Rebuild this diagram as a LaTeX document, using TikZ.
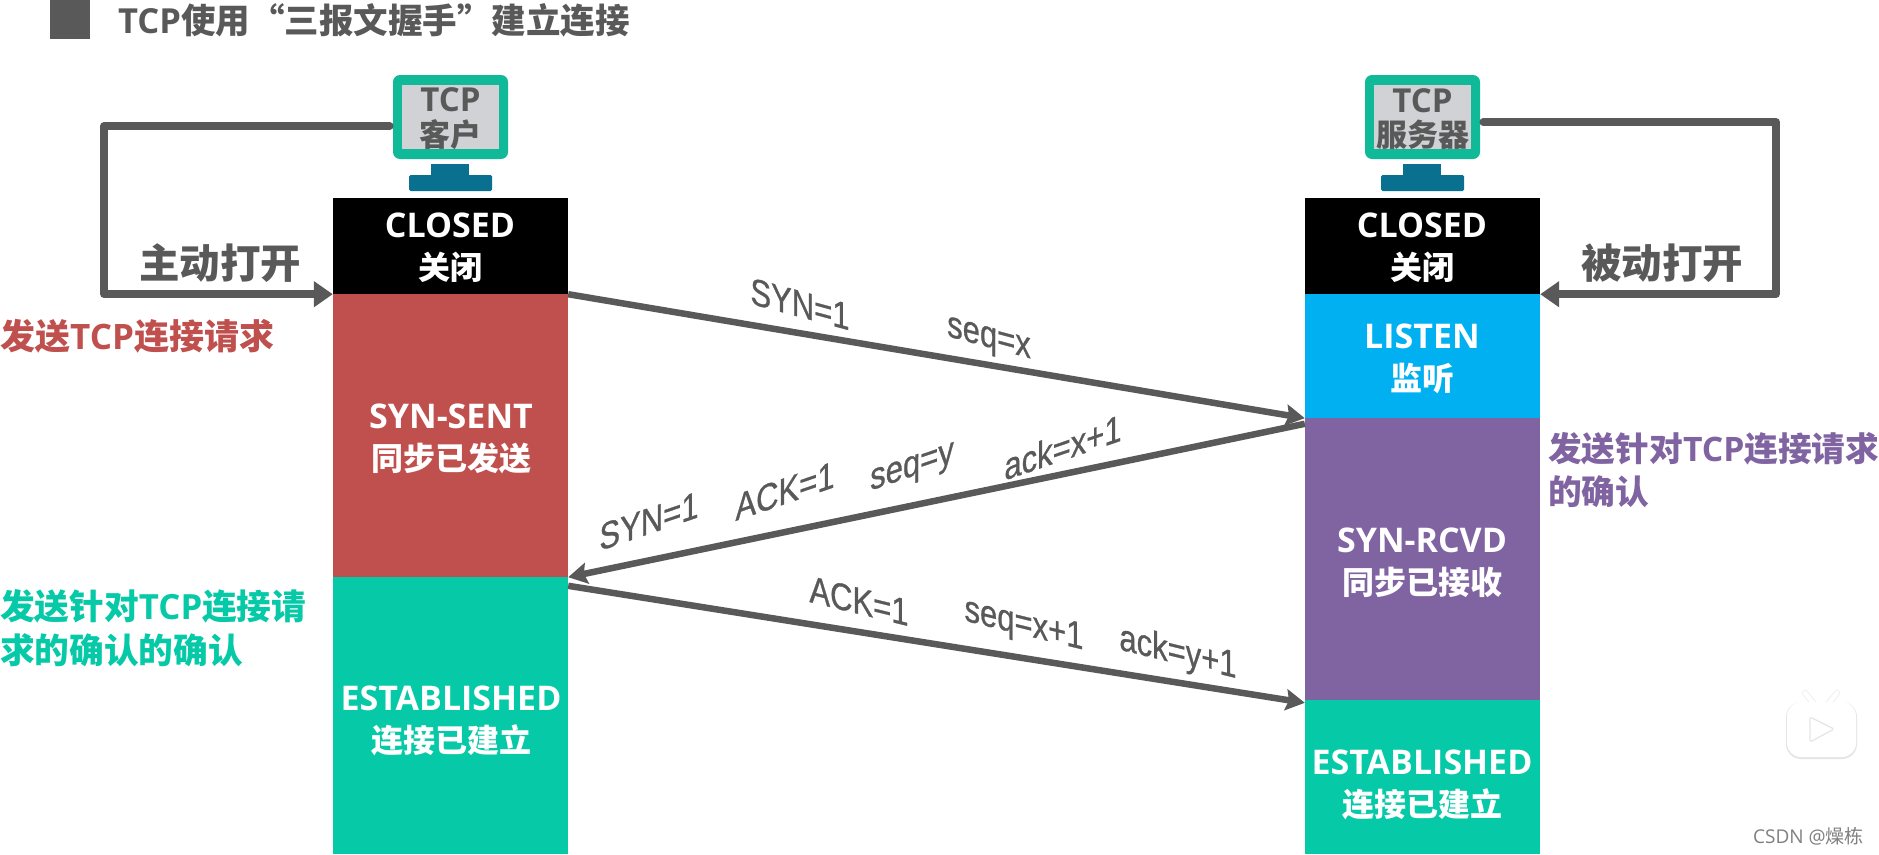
\documentclass[tikz,border=0pt]{standalone}
\usepackage{fontspec}
\setmainfont{Open Sans}
\newfontfamily\cjk{Noto Sans CJK SC}
\newfontfamily\seglatin[FakeBold=0.8]{Liberation Sans}
\usetikzlibrary{arrows.meta}
\definecolor{ink}{HTML}{595959}
\definecolor{redstate}{HTML}{C0504D}
\definecolor{tealstate}{HTML}{05C9A7}
\definecolor{bluestate}{HTML}{00B0F0}
\definecolor{purplestate}{HTML}{8064A2}
\definecolor{monframe}{HTML}{10B998}
\definecolor{monscreen}{HTML}{D0D2D6}
\definecolor{monstand}{HTML}{0A7090}
\definecolor{redlabel}{HTML}{C0504D}
\newcommand{\fsz}[1]{\fontsize{#1pt}{#1pt}\selectfont}
\newcommand{\zh}[1]{{\cjk\bfseries #1}}
\newcommand{\en}[1]{{\bfseries #1}}
\newcommand{\statetxt}[2]{\fsz{34}\en{#1}\\[13pt]\fsz{32}\zh{#2}}
\tikzset{
  block/.style={rectangle,inner sep=0pt,minimum width=235pt},
  statelabel/.style={text=white,align=center,inner sep=0pt},
  monbody/.style={rectangle,rounded corners=7pt,fill=monframe,inner sep=0pt,minimum width=115pt,minimum height=84pt},
  monscr/.style={rectangle,fill=monscreen,inner sep=0pt,minimum width=97pt,minimum height=64pt},
  montext/.style={text=ink,align=center,inner sep=0pt},
  monpart/.style={rectangle,fill=monstand,inner sep=0pt},
  openline/.style={draw=ink,line width=7.5pt,line join=round,line cap=round,-{Triangle[length=19pt,width=25pt]}},
  segline/.style={draw=ink,line width=6.5pt,-{Stealth[length=19pt,width=21pt,inset=3pt]}},
  segtext/.style={font=\seglatin\fsz{31},text=ink,inner sep=0pt,yscale=1.22,transform shape},
  sidetext/.style={align=left,inner sep=0pt,anchor=west},
  opentext/.style={text=ink,inner sep=0pt}
}
\begin{document}
\begin{tikzpicture}[x=1pt,y=-1pt]
\useasboundingbox (0,0) rectangle (1879,854);
\fill[white] (0,0) rectangle (1879,854);

% heading
\fill[ink] (50,0) rectangle (90,39);
\node[anchor=west,text=ink,inner sep=0pt] (title) at (118,20) {\fsz{34.5}\en{TCP}\zh{使用“三报文握手”建立连接}};

% client column
\node[block,fill=black,minimum height=96pt] (closedL) at (450.5,246) {};
\node[block,fill=redstate,minimum height=283pt] (sent) at (450.5,435.5) {};
\node[block,fill=tealstate,minimum height=277pt] (estL) at (450.5,715.5) {};
\node[statelabel] (closedLt) at (450,248) {\statetxt{CLOSED}{关闭}};
\node[statelabel] (sentt) at (451,439) {\statetxt{SYN-SENT}{同步已发送}};
\node[statelabel] (estLt) at (451,721) {\statetxt{ESTABLISHED}{连接已建立}};

% server column
\node[block,fill=black,minimum height=96pt] (closedR) at (1422.5,246) {};
\node[block,fill=bluestate,minimum height=124pt] (listen) at (1422.5,356) {};
\node[block,fill=purplestate,minimum height=282pt] (rcvd) at (1422.5,559) {};
\node[block,fill=tealstate,minimum height=154pt] (estR) at (1422.5,777) {};
\node[statelabel] (closedRt) at (1422,248) {\statetxt{CLOSED}{关闭}};
\node[statelabel] (listent) at (1422,359) {\statetxt{LISTEN}{监听}};
\node[statelabel] (rcvdt) at (1422,563) {\statetxt{SYN-RCVD}{同步已接收}};
\node[statelabel] (estRt) at (1422,785) {\statetxt{ESTABLISHED}{连接已建立}};

% client monitor
\node[monpart,minimum width=38pt,minimum height=12pt] (neckL) at (450,170) {};
\node[monpart,rounded corners=1.5pt,minimum width=83pt,minimum height=16pt] (baseL) at (450.5,183) {};
\node[monbody] (client) at (450.5,117) {};
\node[monscr] (clients) at (450.5,117) {};
\node[montext] (clientt) at (450.5,119) {\fsz{33}\en{TCP}\\[7pt]\fsz{31}\zh{客户}};

% server monitor
\node[monpart,minimum width=38pt,minimum height=12pt] (neckR) at (1422,170) {};
\node[monpart,rounded corners=1.5pt,minimum width=83pt,minimum height=16pt] (baseR) at (1422.5,183) {};
\node[monbody] (server) at (1422.5,117) {};
\node[monscr] (servers) at (1422.5,117) {};
\node[montext] (servert) at (1422.5,119) {\fsz{33}\en{TCP}\\[7pt]\fsz{31}\zh{服务器}};

% open transitions
\coordinate (turnL) at (104,126);
\coordinate (turnR) at (1776,122);
\draw[openline] ([xshift=-3pt,yshift=-9pt]client.west) -- (turnL) |- (closedL.south west);
\draw[openline] ([xshift=3pt,yshift=-5pt]server.east) -- (turnR) |- (closedR.south east);
\node[opentext] (activeopen) at (220,263) {\fsz{40.5}\zh{主动打开}};
\node[opentext] (passiveopen) at (1662,263) {\fsz{40.5}\zh{被动打开}};

% handshake segments
\draw[segline] (closedL.south east) -- (listen.south west);
\draw[segline] ([yshift=-6pt]rcvd.north west) -- (sent.south east);
\draw[segline] ([yshift=-9pt]estL.north east) -- ([yshift=-3pt]estR.north west);

\node[segtext,yslant=-0.22] (s1a) at (800,304) {SYN=1};
\node[segtext,yslant=-0.22] (s1b) at (989,341) {seq=x};
\node[segtext,yslant=0.28] (s2a) at (649,521) {SYN=1};
\node[segtext,yslant=0.28] (s2b) at (785,491) {ACK=1};
\node[segtext,yslant=0.28] (s2c) at (912,470) {seq=y};
\node[segtext,yslant=0.28] (s2d) at (1063,447) {ack=x+1};
\node[segtext,yslant=-0.2] (s3a) at (859,601) {ACK=1};
\node[segtext,yslant=-0.2] (s3b) at (1024,626) {seq=x+1};
\node[segtext,yslant=-0.2] (s3c) at (1178,654) {ack=y+1};

% side notes
\node[sidetext,text=redlabel] (noteA) at (0,336) {\fsz{35}\zh{发送}\en{TCP}\zh{连接请求}};
\node[sidetext,text=purplestate] (noteB) at (1548,470) {\fsz{33.7}\zh{发送针对}\en{TCP}\zh{连接请求}\\[10pt]\fsz{33.7}\zh{的确认}};
\node[sidetext,text=tealstate] (noteC) at (0,628) {\fsz{34.7}\zh{发送针对}\en{TCP}\zh{连接请}\\[10pt]\fsz{34.7}\zh{求的确认的确认}};

% player badge
\draw[black!8,line width=6pt,line cap=round] (1805,693) -- (1814,704) (1837,693) -- (1828,704);
\fill[black!10,rounded corners=15pt] (1786,702) rectangle (1857,759);
\draw[white,line width=4.5pt,line cap=round] (1805,693) -- (1814,704) (1837,693) -- (1828,704);
\fill[white,rounded corners=14pt] (1787,702) rectangle (1856,757);
\filldraw[draw=black!10,fill=white,line width=1.2pt,line join=round,rounded corners=2pt] (1810,717) -- (1834,729) -- (1810,742) -- cycle;

% source mark
\node[anchor=east,text=black!50,inner sep=0pt] (mark) at (1864,836) {\fsz{19}\fontspec{Open Sans}CSDN @{\cjk 燥栋}};
\end{tikzpicture}
\end{document}
